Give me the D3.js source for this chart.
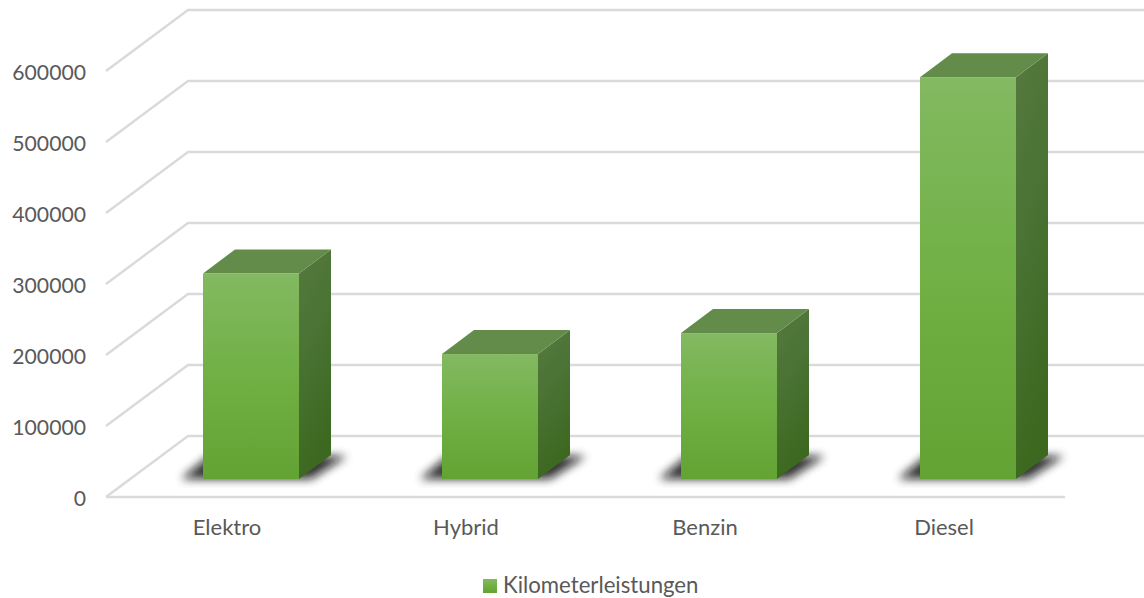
<!DOCTYPE html>
<html>
<head>
<meta charset="utf-8">
<script src="https://cdn.jsdelivr.net/npm/d3@7/dist/d3.min.js"></script>
<style>
html,body{margin:0;padding:0;background:#fff;overflow:hidden}
svg{display:block}
text{font-family:Lato,"Open Sans",sans-serif;fill:#595959}
</style>
</head>
<body>
<svg id="chart" width="1144" height="598"></svg>
<script>
const categories = ["Elektro", "Hybrid", "Benzin", "Diesel"];
const seriesName = "Kilometerleistungen";
const seriesValues = [289500, 176000, 205500, 566000];
const tickValues = [0, 100000, 200000, 300000, 400000, 500000, 600000];

const W = 1144, H = 598;
const floorLeft = 106, floorRight = 1065;
const depthX = 82, depthY = 61;       // chart depth
const barDX = 32, barDY = 24;         // bar depth
const barWidth = 96, barLift = 18;    // bar front plane above chart front plane
const barShift = 24;                  // bar front plane shift from label centre
const svg = d3.select("#chart");

const x = d3.scaleBand().domain(categories).range([107.5, 1063.5]);
const y = d3.scaleLinear().domain([0, 600000]).range([497, 71]);

const defs = svg.append("defs");
function grad(id, x2, y2, stops){
  const g = defs.append("linearGradient").attr("id", id)
    .attr("x1", 0).attr("y1", 0).attr("x2", x2).attr("y2", y2);
  stops.forEach(s => g.append("stop").attr("offset", s[0]).attr("stop-color", s[1]));
}
grad("front", 0, 1, [[0, "#83b962"], [0.5, "#70b044"], [1, "#63a334"]]);
grad("side", 0.25, 1, [[0, "#56793f"], [0.45, "#4a7334"], [1, "#3c681f"]]);
defs.append("filter").attr("id", "blur")
  .attr("filterUnits", "userSpaceOnUse")
  .attr("x", 0).attr("y", 400).attr("width", W).attr("height", 130)
  .append("feGaussianBlur").attr("stdDeviation", 5);

// grid
const grid = svg.append("g").attr("fill", "none").attr("stroke", "#dadada").attr("stroke-width", 2.4);
grid.selectAll("path").data(tickValues).join("path")
  .attr("d", v => {
    const p = d3.path();
    p.moveTo(floorLeft, y(v));
    p.lineTo(floorLeft + depthX, y(v) - depthY);
    p.lineTo(W, y(v) - depthY);
    return p.toString();
  });
svg.append("path").attr("fill", "none").attr("stroke", "#dadada").attr("stroke-width", 2.4)
  .attr("d", d3.line()([[floorLeft, y(0)], [floorRight, y(0)]]));

// y axis labels
const yAxis = d3.axisLeft(y).tickValues(tickValues).tickFormat(d3.format("d")).tickSize(0).tickPadding(0);
const yg = svg.append("g").attr("transform", "translate(86,2)").call(yAxis);
yg.select(".domain").remove();
yg.selectAll("text").style("font-family", "Lato").style("font-size", "21.2px").attr("fill", "#595959");

// x axis labels
const xAxis = d3.axisBottom(x).tickSize(0).tickPadding(0);
const xg = svg.append("g").attr("transform", "translate(0,519)").call(xAxis);
xg.select(".domain").remove();
xg.selectAll("text").style("font-family", "Lato").style("font-size", "22px").attr("fill", "#595959");

// bars
const rows = categories.map((c, i) => ({c, v: seriesValues[i]}));
const barLeft = d => x(d.c) + x.bandwidth() / 2 - barShift;
const barBase = y(0) - barLift;
const barTop = d => y(d.v) - barLift;
const poly = pts => d3.line()(pts) + "Z";

const bars = svg.append("g").selectAll("g").data(rows).join("g");
bars.append("path").attr("fill", "#111").attr("opacity", 0.85).attr("filter", "url(#blur)")
  .attr("d", d => {
    const l = barLeft(d), r = l + barWidth;
    return poly([[l - 22, barBase], [l + 6, barBase - 23], [r + 48, barBase - 23], [r + 12, barBase]]);
  });
bars.append("path").attr("fill", "url(#side)")
  .attr("d", d => {
    const r = barLeft(d) + barWidth;
    return poly([[r, barTop(d)], [r + barDX, barTop(d) - barDY], [r + barDX, barBase - barDY], [r, barBase]]);
  });
bars.append("path").attr("fill", "#638c4b")
  .attr("d", d => {
    const l = barLeft(d), r = l + barWidth;
    return poly([[l, barTop(d)], [l + barDX, barTop(d) - barDY], [r + barDX, barTop(d) - barDY], [r, barTop(d)]]);
  });
bars.append("rect").attr("fill", "url(#front)")
  .attr("x", barLeft).attr("y", barTop).attr("width", barWidth).attr("height", d => barBase - barTop(d));

// legend
svg.append("rect").attr("x", 483).attr("y", 579).attr("width", 14).attr("height", 14).attr("fill", "url(#front)");
svg.append("text").attr("x", 503).attr("y", 593).style("font-size", "22.2px").text(seriesName);
</script>
</body>
</html>
